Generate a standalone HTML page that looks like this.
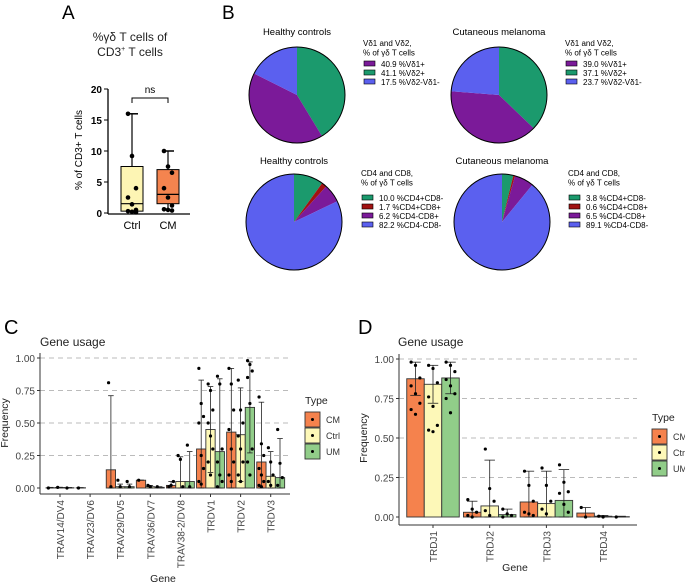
<!DOCTYPE html>
<html><head><meta charset="utf-8"><style>
body{margin:0;background:#fff}
svg{display:block;font-family:"Liberation Sans",Arial,sans-serif}
</style></head><body>
<svg id="s" width="685" height="584" viewBox="0 0 685 584">
<text x="62" y="19" font-size="19">A</text>
<text x="130" y="41" font-size="12" text-anchor="middle" fill="#222">%γδ T cells of</text>
<text x="130" y="56" font-size="12" text-anchor="middle" fill="#222">CD3<tspan font-size="7" dy="-5">+</tspan><tspan dy="5"> T cells</tspan></text>
<text x="222" y="19" font-size="19">B</text>
<text x="4" y="334" font-size="20">C</text>
<text x="358" y="334" font-size="20">D</text>
<g id="A"></g><g id="B"></g><g id="C"></g><g id="D"></g>
</svg>
<script>
const NS='http://www.w3.org/2000/svg';
function el(p,t,a,txt){const e=document.createElementNS(NS,t);for(const k in a)e.setAttribute(k,a[k]);if(txt!==undefined)e.textContent=txt;p.appendChild(e);return e;}

// ===== Panel A data =====
const aGroups=['Ctrl','CM'];
const aQ1=[0.3,1.5], aMed=[1.5,3.0], aQ3=[7.5,7.0], aMin=[0,0.5], aMax=[16,10];
const aPointsCtrl=[16,9.2,4,2.5,1.4,0.5,0.3,0.2,0.1];
const aPointsCM=[10,7.5,6.5,4,2.5,1.2,0.6,0.5,0.4];
const aTicks=[0,5,10,15,20];
const aColors=['#fdf5b4','#f4844f'];
{
const g=document.getElementById('A');
const y=v=>213-v*6.2; const cx=[132,168];
el(g,'line',{x1:108,y1:y(20),x2:108,y2:214,stroke:'#000','stroke-width':1.3});
el(g,'line',{x1:108,y1:214,x2:190,y2:214,stroke:'#000','stroke-width':1.3});
aTicks.forEach(t=>{el(g,'line',{x1:104,y1:y(t),x2:108,y2:y(t),stroke:'#000'});
 const tx=el(g,'text',{x:102,y:y(t)+4,'font-size':10,'font-weight':'bold','text-anchor':'end'},String(t));
 });
const yl=el(g,'text',{x:82,y:150,'font-size':10,'text-anchor':'middle',transform:'rotate(-90 82 150)'},'% of CD3+ T cells');

const pts=[aPointsCtrl,aPointsCM];
aGroups.forEach((n,i)=>{
 const c=cx[i];
 el(g,'line',{x1:c,y1:y(aMax[i]),x2:c,y2:y(aMin[i]),stroke:'#000','stroke-width':1.2});
 el(g,'line',{x1:c-6,y1:y(aMax[i]),x2:c+6,y2:y(aMax[i]),stroke:'#000','stroke-width':1.5});
 const b=el(g,'rect',{x:c-11,y:y(aQ3[i]),width:22,height:y(aQ1[i])-y(aQ3[i]),fill:aColors[i],stroke:'#000','stroke-width':1});
 
 el(g,'line',{x1:c-11,y1:y(aMed[i]),x2:c+11,y2:y(aMed[i]),stroke:'#000','stroke-width':1.2});
 pts[i].forEach((v,j)=>{const d=el(g,'circle',{cx:c+((j%3)-1)*4,cy:y(v),r:2.3,fill:'#000'});
  });
 const t=el(g,'text',{x:c,y:229,'font-size':11,'text-anchor':'middle'},n);
 
});
el(g,'path',{d:'M132 103V98H168V103',fill:'none',stroke:'#000','stroke-width':1});
const ns=el(g,'text',{x:150,y:93,'font-size':10,'text-anchor':'middle'},'ns');

}

// ===== Panel B data =====
const pieTitles=['Healthy controls','Cutaneous melanoma','Healthy controls','Cutaneous melanoma'];
const pieVd2=[41.1,37.1], pieVd1=[40.9,39.0], pieVdNeg=[17.5,23.7];
const pieCD4=[10.0,3.8], pieDP=[1.7,0.6], pieCD8=[6.2,6.5], pieDN=[82.2,89.1];
const pieLabelsTop=['%Vδ1+','%Vδ2+','%Vδ2-Vδ1-'];
const pieLabelsBot=['%CD4+CD8-','%CD4+CD8+','%CD4-CD8+','%CD4-CD8-'];
const GREEN='#1b9a6d',PURPLE='#7b1a99',BLUE='#5b60ef',RED='#a11212';
{
const g=document.getElementById('B');
const centers=[[297,95],[499,95],[294,222],[502,222]];
const r=48;
function pie(ci,vals,cols){
 const [cx,cy]=centers[ci]; let a0=0; const tot=vals.reduce((s,v)=>s+v,0);
 vals.forEach((v,k)=>{const a1=a0+v/tot*2*Math.PI;
  const x0=cx+r*Math.sin(a0),y0=cy-r*Math.cos(a0),x1=cx+r*Math.sin(a1),y1=cy-r*Math.cos(a1);
  const p=el(g,'path',{d:`M${cx} ${cy}L${x0} ${y0}A${r} ${r} 0 ${a1-a0>Math.PI?1:0} 1 ${x1} ${y1}Z`,fill:cols[k]});
  a0=a1;});
 el(g,'circle',{cx,cy,r,fill:'none',stroke:'#000','stroke-width':1});
 const t=el(g,'text',{x:cx,y:ci<2?35:164,'font-size':9.5,'text-anchor':'middle'},pieTitles[ci]);
 
}
function legend(lx,ty,lines,entries,ey){
 lines.forEach((l,k)=>{const t=el(g,'text',{x:lx,y:ty+k*9.5,'font-size':8},l);});
 entries.forEach((e,k)=>{const yy=ey+k*9;
  el(g,'rect',{x:lx+1,y:yy-6,width:11,height:5,fill:e[1],stroke:'#000','stroke-width':0.6});
  const t=el(g,'text',{x:lx+18,y:yy,'font-size':8},e[0]);});
}
for(let i=0;i<2;i++){
 pie(i,[pieVd2[i],pieVd1[i],pieVdNeg[i]],[GREEN,PURPLE,BLUE]);
 const lx=i?565:363;
 legend(lx,46,['Vδ1 and Vδ2,','% of γδ T cells'],
  [[pieVd1[i].toFixed(1)+' '+pieLabelsTop[0],PURPLE],[pieVd2[i].toFixed(1)+' '+pieLabelsTop[1],GREEN],[pieVdNeg[i].toFixed(1)+' '+pieLabelsTop[2],BLUE]],67);
}
for(let i=0;i<2;i++){
 pie(2+i,[pieCD4[i],pieDP[i],pieCD8[i],pieDN[i]],[GREEN,RED,PURPLE,BLUE]);
 const lx=i?568:361;
 legend(lx,176,['CD4 and CD8,','% of γδ T cells'],
  [[pieCD4[i].toFixed(1)+' '+pieLabelsBot[0],GREEN],[pieDP[i].toFixed(1)+' '+pieLabelsBot[1],RED],[pieCD8[i].toFixed(1)+' '+pieLabelsBot[2],PURPLE],[pieDN[i].toFixed(1)+' '+pieLabelsBot[3],BLUE]],201);
}
}

// ===== Panel C data =====
const cGenes=['TRAV14/DV4','TRAV23/DV6','TRAV29/DV5','TRAV36/DV7','TRAV38-2/DV8','TRDV1','TRDV2','TRDV3'];
const cCM=[0.002,0.002,0.14,0.06,0.02,0.30,0.43,0.20];
const cCtrl=[0.004,null,0.01,0.01,0.05,0.45,0.41,0.09];
const cUM=[0.002,null,0.01,0.005,0.05,0.28,0.62,0.08];
const cCMhi=[0.005,0.003,0.71,0.06,0.05,0.83,0.92,0.66];
const cCtrlhi=[0.006,null,0.03,0.02,0.24,0.78,0.77,0.28];
const cUMhi=[0.004,null,0.03,0.01,0.28,0.84,0.97,0.38];
const cCMpts=[[0],[0],[0.81,0.01],[0.06],[0.01,0.02,0.05],[0.92,0.65,0.55,0.5,0.25,0.15,0.05,0.03],[0.92,0.8,0.6,0.45,0.3,0.2,0.1,0.05],[0.7,0.34,0.25,0.15,0.1,0.05,0.02,0.01]];
const cCtrlpts=[[0.005],[],[0.06,0.01],[0.02,0.01],[0.25,0.22,0.01],[0.8,0.75,0.6,0.5,0.4,0.3,0.2,0.1],[0.83,0.6,0.5,0.4,0.3,0.2,0.1,0.05],[0.31,0.2,0.1,0.05,0.02]];
const cUMpts=[[0],[],[0.05,0.01],[0.01],[0.33,0.01],[0.86,0.8,0.3,0.2,0.1,0.05,0.01],[0.98,0.95,0.9,0.85,0.65,0.3,0.2,0.1],[0.45,0.19,0.08,0.02]];
const cTicks=[0,0.25,0.5,0.75,1.0];
const TC=['#f5824d','#fdf8b8','#91cd89'];
const TN=['CM','Ctrl','UM'];

function barChart(gid,genes,means,his,pts,X0,DX,BW,Y0,Y1,axL,axR,axB,legX,legY,titleX,geneX,geneY,pfx){
 const g=document.getElementById(gid);
 const y=v=>Y0-(Y0-Y1)*v;
 const t0=el(g,'text',{x:titleX,y:346,'font-size':12,fill:'#222'},'Gene usage');
 
 cTicks.forEach(t=>{
  if(t>0)el(g,'line',{x1:axL,y1:y(t),x2:axR,y2:y(t),stroke:'#bbb','stroke-dasharray':'5,4','stroke-width':1});
  el(g,'line',{x1:axL-3,y1:y(t),x2:axL,y2:y(t),stroke:'#333'});
  const tx=el(g,'text',{x:axL-5,y:y(t)+4,'font-size':10,fill:'#444','text-anchor':'end'},t.toFixed(2));
  
 });
 el(g,'line',{x1:axL,y1:Y1-5,x2:axL,y2:axB,stroke:'#333','stroke-width':1});
 el(g,'line',{x1:axL,y1:axB,x2:axR,y2:axB,stroke:'#333','stroke-width':1});
 const yl=el(g,'text',{x:axL-32,y:(Y0+Y1)/2,'font-size':10.5,fill:'#222','text-anchor':'middle',transform:`rotate(-90 ${axL-32} ${(Y0+Y1)/2})`},'Frequency');
 
 genes.forEach((gn,i)=>{
  const cx=X0+i*DX;
  for(let k=0;k<3;k++){
   const m=means[k][i]; if(m===null)continue;
   const bx=cx+(k-1)*BW;
   const r=el(g,'rect',{x:bx-BW/2,y:y(m),width:BW,height:y(0)-y(m),fill:TC[k],stroke:'#333','stroke-width':0.9});
   
   const hi=his[k][i], lo=Math.max(0,2*m-hi);
   el(g,'line',{x1:bx,y1:y(hi),x2:bx,y2:y(lo),stroke:'#222','stroke-width':0.8});
   el(g,'line',{x1:bx-BW*0.3,y1:y(hi),x2:bx+BW*0.3,y2:y(hi),stroke:'#222','stroke-width':0.8});
   el(g,'line',{x1:bx-BW*0.3,y1:y(lo),x2:bx+BW*0.3,y2:y(lo),stroke:'#222','stroke-width':0.8});
   pts[k][i].forEach((v,j)=>{const d=el(g,'circle',{cx:bx+((j%3)-1)*BW*0.25,cy:y(v),r:1.6,fill:'#000'});
    });
  }
  el(g,'line',{x1:cx,y1:axB,x2:cx,y2:axB+3,stroke:'#333'});
  const lt=el(g,'text',{x:cx+4,y:axB+6,'font-size':10,fill:'#444','text-anchor':'end',transform:`rotate(-90 ${cx+4} ${axB+6})`},gn);
  
 });
 const gx=el(g,'text',{x:geneX,y:geneY,'font-size':10.5,fill:'#222','text-anchor':'middle'},'Gene');
 
 const lt=el(g,'text',{x:legX,y:legY,'font-size':10.5,fill:'#222'},'Type');
 
 for(let k=0;k<3;k++){
  const yy=legY+8+k*16;
  const r=el(g,'rect',{x:legX,y:yy,width:15,height:15,fill:TC[k],stroke:'#333','stroke-width':0.9});
  
  el(g,'circle',{cx:legX+7.5,cy:yy+7.5,r:1.5,fill:'#000'});
  const t=el(g,'text',{x:legX+21,y:yy+11,'font-size':9,fill:'#333'},TN[k]);
  
 }
}
barChart('C',cGenes,[cCM,cCtrl,cUM],[cCMhi,cCtrlhi,cUMhi],[cCMpts,cCtrlpts,cUMpts],
 60,30.1,9.3,488,358,40,290,494,305,404,40,163,582,'c');

// ===== Panel D data =====
const dGenes=['TRDJ1','TRDJ2','TRDJ3','TRDJ4'];
const dCM=[0.875,0.03,0.095,0.025];
const dCtrl=[0.84,0.07,0.085,0.005];
const dUM=[0.88,0.015,0.105,0.002];
const dCMhi=[0.98,0.10,0.29,0.06];
const dCtrlhi=[0.96,0.36,0.29,0.01];
const dUMhi=[0.98,0.05,0.30,0.005];
const dCMpts=[[0.98,0.96,0.88,0.83,0.78,0.72,0.68,0.65],[0.11,0.05,0.03,0.01,0],[0.29,0.2,0.1,0.03,0.02,0.01],[0.06,0]];
const dCtrlpts=[[0.96,0.94,0.85,0.76,0.7,0.58,0.55,0.54],[0.43,0.18,0.1,0.04,0.01],[0.31,0.2,0.1,0.05,0.02],[0.005,0]];
const dUMpts=[[0.98,0.96,0.92,0.87,0.83,0.78,0.75,0.66],[0.05,0.02,0.01,0],[0.33,0.22,0.16,0.15,0.08,0.03],[0]];
barChart('D',dGenes,[dCM,dCtrl,dUM],[dCMhi,dCtrlhi,dUMhi],[dCMpts,dCtrlpts,dUMpts],
 433,56.7,17.5,517,359,399,637,525,652,421,398,515,571,'d');
</script>
</body></html>
